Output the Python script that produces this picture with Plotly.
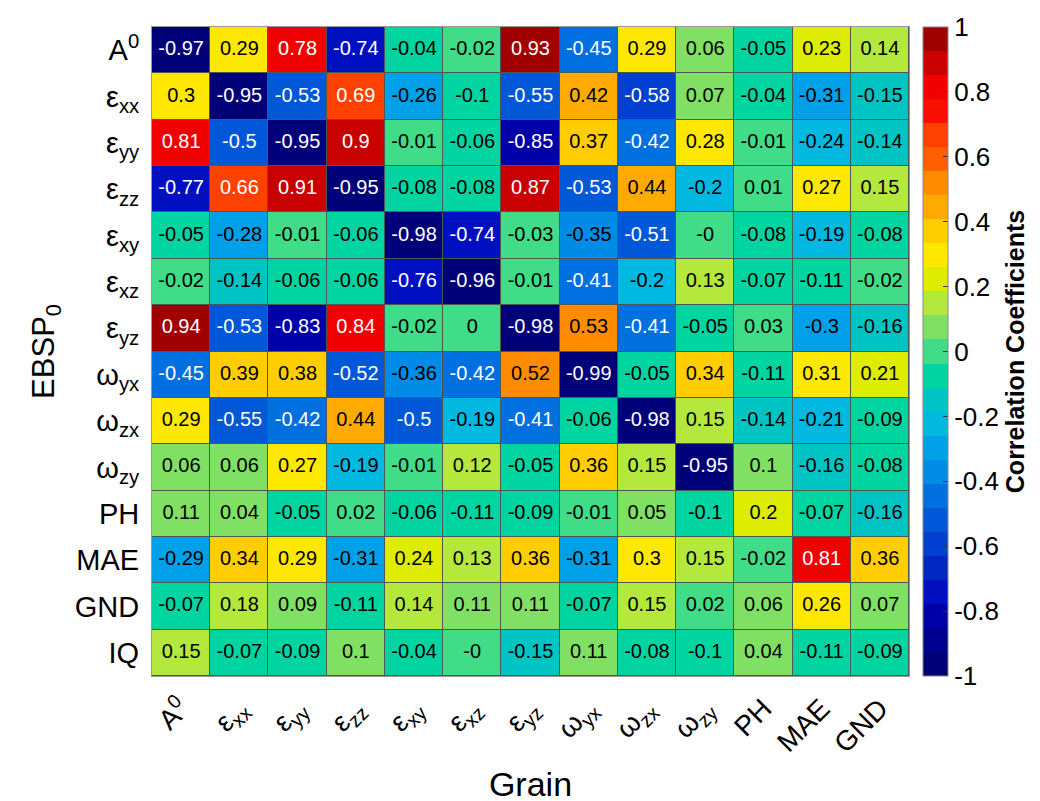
import plotly.graph_objects as go

col_labels = ["A<sup>0</sup>", "ε<sub>xx</sub>", "ε<sub>yy</sub>", "ε<sub>zz</sub>", "ε<sub>xy</sub>",
              "ε<sub>xz</sub>", "ε<sub>yz</sub>", "ω<sub>yx</sub>", "ω<sub>zx</sub>", "ω<sub>zy</sub>",
              "PH", "MAE", "GND"]
row_labels = ["A<sup>0</sup>", "ε<sub>xx</sub>", "ε<sub>yy</sub>", "ε<sub>zz</sub>", "ε<sub>xy</sub>",
              "ε<sub>xz</sub>", "ε<sub>yz</sub>", "ω<sub>yx</sub>", "ω<sub>zx</sub>", "ω<sub>zy</sub>",
              "PH", "MAE", "GND", "IQ"]

row_A0 = [-0.97, 0.29, 0.78, -0.74, -0.04, -0.02, 0.93, -0.45, 0.29, 0.06, -0.05, 0.23, 0.14]
row_exx = [0.3, -0.95, -0.53, 0.69, -0.26, -0.1, -0.55, 0.42, -0.58, 0.07, -0.04, -0.31, -0.15]
row_eyy = [0.81, -0.5, -0.95, 0.9, -0.01, -0.06, -0.85, 0.37, -0.42, 0.28, -0.01, -0.24, -0.14]
row_ezz = [-0.77, 0.66, 0.91, -0.95, -0.08, -0.08, 0.87, -0.53, 0.44, -0.2, 0.01, 0.27, 0.15]
row_exy = [-0.05, -0.28, -0.01, -0.06, -0.98, -0.74, -0.03, -0.35, -0.51, -0.0, -0.08, -0.19, -0.08]
row_exz = [-0.02, -0.14, -0.06, -0.06, -0.76, -0.96, -0.01, -0.41, -0.2, 0.13, -0.07, -0.11, -0.02]
row_eyz = [0.94, -0.53, -0.83, 0.84, -0.02, 0.0, -0.98, 0.53, -0.41, -0.05, 0.03, -0.3, -0.16]
row_wyx = [-0.45, 0.39, 0.38, -0.52, -0.36, -0.42, 0.52, -0.99, -0.05, 0.34, -0.11, 0.31, 0.21]
row_wzx = [0.29, -0.55, -0.42, 0.44, -0.5, -0.19, -0.41, -0.06, -0.98, 0.15, -0.14, -0.21, -0.09]
row_wzy = [0.06, 0.06, 0.27, -0.19, -0.01, 0.12, -0.05, 0.36, 0.15, -0.95, 0.1, -0.16, -0.08]
row_PH = [0.11, 0.04, -0.05, 0.02, -0.06, -0.11, -0.09, -0.01, 0.05, -0.1, 0.2, -0.07, -0.16]
row_MAE = [-0.29, 0.34, 0.29, -0.31, 0.24, 0.13, 0.36, -0.31, 0.3, 0.15, -0.02, 0.81, 0.36]
row_GND = [-0.07, 0.18, 0.09, -0.11, 0.14, 0.11, 0.11, -0.07, 0.15, 0.02, 0.06, 0.26, 0.07]
row_IQ = [0.15, -0.07, -0.09, 0.1, -0.04, -0.0, -0.15, 0.11, -0.08, -0.1, 0.04, -0.11, -0.09]

z = [row_A0, row_exx, row_eyy, row_ezz, row_exy, row_exz, row_eyz,
     row_wyx, row_wzx, row_wzy, row_PH, row_MAE, row_GND, row_IQ]

band_colors = ["#000078", "#000090", "#0000A8", "#0010C0", "#0028C0", "#0040D0", "#0058D8",
               "#0070E0", "#008CE6", "#00A0E8", "#00B8E0", "#00C4C4", "#00D4A0",
               "#40DC88",
               "#80E064", "#B4E83C", "#DEEC00", "#FFE800", "#FFCD00", "#FFAA00", "#FF8C00",
               "#FF5F00", "#FF4100", "#F80F00", "#F00000", "#C80000", "#A00000"]
n = len(band_colors)
colorscale = []
for k, c in enumerate(band_colors):
    colorscale.append([k / n, c])
    colorscale.append([(k + 1) / n, c])

nrows, ncols = len(z), len(z[0])
xs = list(range(ncols))
ys = list(range(nrows))

tx, ty, tt, tc = [], [], [], []
for i in range(nrows):
    for j in range(ncols):
        v = z[i][j]
        tx.append(j)
        ty.append(i)
        tt.append(f"{v:g}")
        tc.append("white" if (v <= -0.4 or v >= 0.6) else "black")

font = "Liberation Sans, Arial, sans-serif"

fig = go.Figure()
fig.add_trace(go.Heatmap(
    z=z, x=xs, y=ys, zmin=-1, zmax=1, colorscale=colorscale,
    xgap=1, ygap=1, hoverinfo="skip",
    colorbar=dict(
        x=1.0185, xanchor="left", xpad=0, y=0.5, yanchor="middle", len=1, ypad=0,
        thickness=25, outlinecolor="#888888", outlinewidth=1,
        tickvals=[-1, -0.8, -0.6, -0.4, -0.2, 0, 0.2, 0.4, 0.6, 0.8, 1],
        ticktext=["-1", "-0.8", "-0.6", "-0.4", "-0.2", "0", "0.2", "0.4", "0.6", "0.8", "1"],
        ticks="inside", ticklen=5, tickcolor="#333333",
        tickfont=dict(family=font, size=26, color="black"),
        title=dict(text="<b>Correlation Coefficients</b>", side="right",
                   font=dict(family=font, size=25, color="black")),
    ),
))
fig.add_trace(go.Scatter(
    x=tx, y=ty, mode="text", text=tt, hoverinfo="skip", showlegend=False,
    textfont=dict(family=font, size=20, color=tc),
))

fig.update_layout(
    width=1040, height=801,
    margin=dict(l=144, r=139, t=19, b=129),
    paper_bgcolor="white", plot_bgcolor="#4a5a52",
    showlegend=False,
    xaxis=dict(
        tickvals=xs, ticktext=col_labels, tickangle=-45, range=[-0.5, ncols - 0.5],
        showgrid=False, zeroline=False, ticks="", showline=True, mirror=True,
        linecolor="#999999", linewidth=1, ticklabelstandoff=4,
        tickfont=dict(family=font, size=28, color="black"),
        title=dict(text="Grain", font=dict(family=font, size=34, color="black"), standoff=14),
    ),
    yaxis=dict(
        tickvals=ys, ticktext=row_labels, range=[nrows - 0.5, -0.5],
        showgrid=False, zeroline=False, ticks="", showline=True, mirror=True,
        linecolor="#999999", linewidth=1, ticklabelstandoff=6,
        tickfont=dict(family=font, size=29, color="black"),
        title=dict(text="EBSP<sub>0</sub>", font=dict(family=font, size=31, color="black"), standoff=10),
    ),
)

fig.write_html("out.html")
